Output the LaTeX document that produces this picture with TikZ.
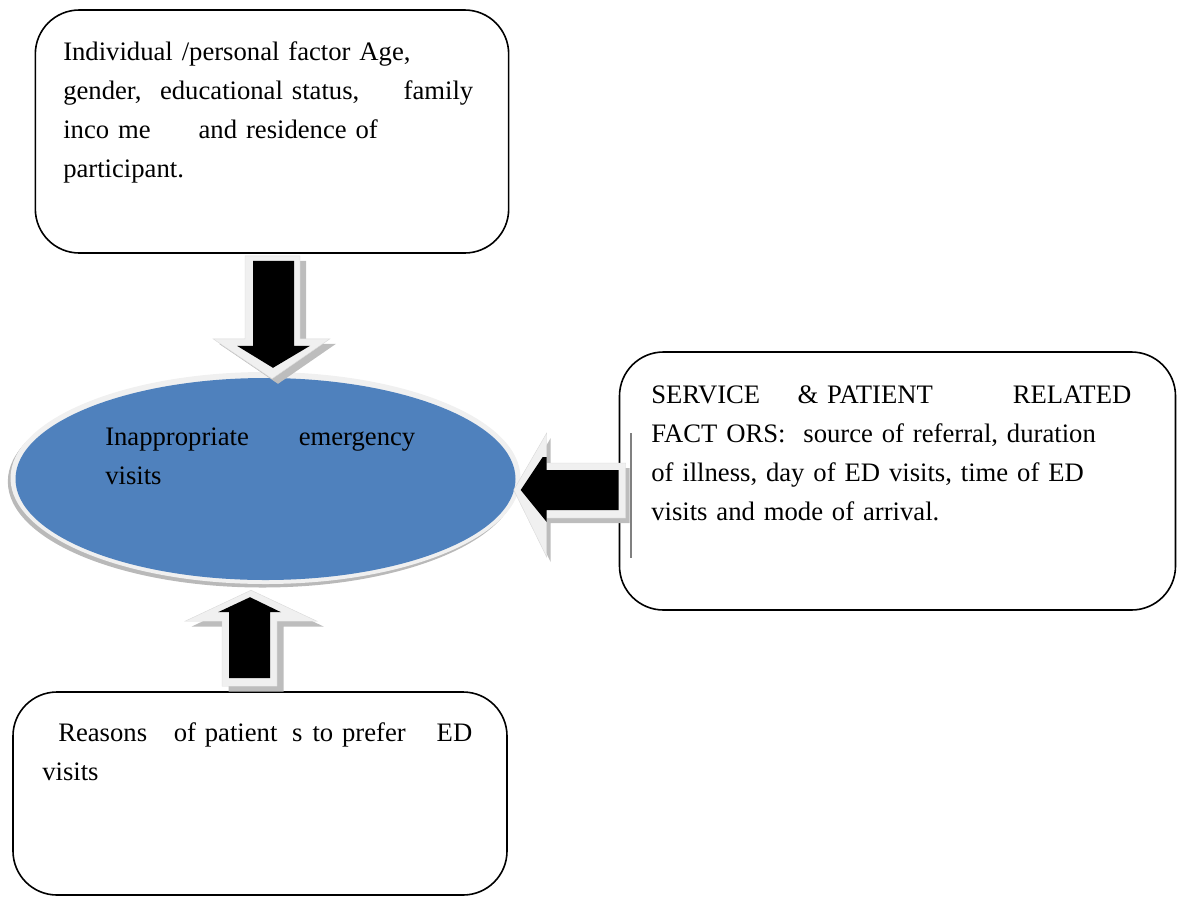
\documentclass[tikz,border=0pt]{standalone}
\usepackage{fontspec}
\setmainfont{Liberation Serif}
\usetikzlibrary{shapes.geometric}
\definecolor{hubblue}{HTML}{4F81BD}
\definecolor{rimgray}{HTML}{F0F0F0}
\definecolor{shadegray}{HTML}{BDBDBD}
\begin{document}
\begin{tikzpicture}[x=0.75pt,y=-0.75pt,
  factorbox/.style={draw=black, line width=1.2pt, rounded corners=33pt, inner sep=0pt},
  txt/.style={font=\fontsize{20}{29.25}\selectfont, inner sep=0pt, anchor=base west, align=left},
  arrowout/.style={fill=rimgray, draw=rimgray!90!black, line width=0.3pt},
  arrowin/.style={fill=black},
  arrowshadow/.style={fill=shadegray},
]
\useasboundingbox (0,0) rectangle (1178,897);

% boxes
\node[factorbox, minimum width=355pt, minimum height=182.25pt] (personal) at (272,131.5) {};
\node[factorbox, minimum width=417pt, minimum height=193.5pt] (service) at (897.5,481) {};
\node[factorbox, minimum width=370.5pt, minimum height=152.25pt] (reasons) at (260,793.5) {};

% hub ellipse
\fill[gray!55] (262.5,481.5) ellipse [x radius=191pt, y radius=79.5pt];
\fill[rimgray] (265.5,478) ellipse [x radius=191.25pt, y radius=79.5pt];
\node[ellipse, fill=hubblue, minimum width=375pt, minimum height=151.5pt, inner sep=0pt] (hub) at (265.5,479) {};

% texts
\node[txt, text width=307.5pt] (personaltext) at (63,60) {Individual /personal factor Age,\\
\makebox[\linewidth][l]{gender,\hspace{14pt}educational status,\hfill family}\\
inco me\hspace*{36pt}and residence of\\
participant.};

\node[txt, text width=360pt] (servicetext) at (651,403) {\makebox[\linewidth][l]{SERVICE\hspace{28pt}\& PATIENT\hfill RELATED}\\
FACT ORS:\ \ source of referral, duration\\
of illness, day of ED visits, time of ED\\
visits and mode of arrival.};

\node[txt, text width=322.5pt] (reasonstext) at (42,741) {\makebox[\linewidth][l]{\hspace*{12pt}Reasons\hspace{20pt}of patient\hspace{11pt}s\hspace{7.5pt}to prefer\hfill ED}\\
visits};

\node[txt, text width=232.5pt] (hubtext) at (105,445) {\makebox[\linewidth][l]{Inappropriate\hfill emergency}\\
visits};

% top arrow (down) personal -> hub
\coordinate (a1) at (personal.south);
\fill[arrowshadow] ([xshift=4.5pt,yshift=-3.75pt]a1) ++(-27,2) -- ++(55,0) -- ++(0,83) -- ++(30,0) -- ++(-58,40) -- ++(-59,-40) -- ++(32,0) -- cycle;
\path[arrowout] (a1) ++(-27,2) -- ++(55,0) -- ++(0,83) -- ++(30,0) -- ++(-58,40) -- ++(-59,-40) -- ++(32,0) -- cycle;
\fill[arrowin] (a1) ++(-19,7) -- ++(41,0) -- ++(0,85) -- ++(16,0) -- ++(-37,22) -- ++(-36,-22) -- ++(16,0) -- cycle;

% right arrow (left) service -> hub
\coordinate (a2) at (service.west);
\draw[gray, line width=1.5pt] (631,433) -- (631,558);
\fill[arrowshadow] ([xshift=3pt,yshift=-3.75pt]a2) ++(7,-18) -- ++(0,55) -- ++(-79,0) -- ++(0,39) -- ++(-33,-67) -- ++(33,-57) -- ++(0,30) -- cycle;
\path[arrowout] (a2) ++(7,-18) -- ++(0,55) -- ++(-79,0) -- ++(0,39) -- ++(-33,-67) -- ++(33,-57) -- ++(0,30) -- cycle;
\fill[arrowin] (a2) ++(0,-11) -- ++(0,40) -- ++(-72,0) -- ++(0,12) -- ++(-26,-32) -- ++(22,-33) -- ++(4,0) -- ++(0,13) -- cycle;

% bottom arrow (up) reasons -> hub
\coordinate (a3) at (reasons.north);
\fill[arrowshadow] ([xshift=5pt,yshift=-4pt]a3) ++(-38,-5) -- ++(0,-65) -- ++(-37,0) -- ++(66,-31) -- ++(66,31) -- ++(-40,0) -- ++(0,65) -- cycle;
\path[arrowout] (a3) ++(-38,-5) -- ++(0,-65) -- ++(-37,0) -- ++(66,-31) -- ++(66,31) -- ++(-40,0) -- ++(0,65) -- cycle;
\fill[arrowin] (a3) ++(-31,-13) -- ++(0,-66) -- ++(-11,0) -- ++(32,-15) -- ++(31,15) -- ++(-11,0) -- ++(0,66) -- cycle;
\end{tikzpicture}
\end{document}
